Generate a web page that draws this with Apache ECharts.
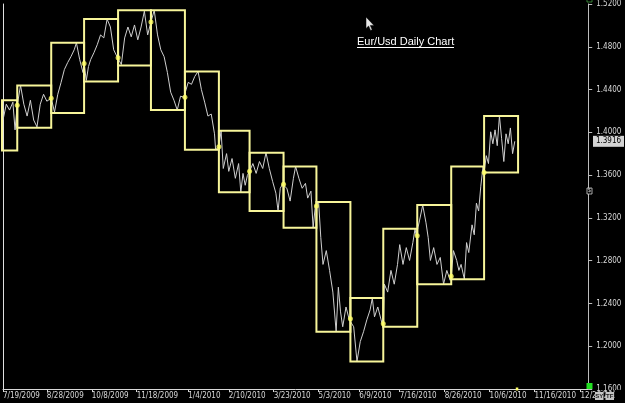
<!DOCTYPE html>
<html>
<head>
<meta charset="utf-8">
<script src="https://cdn.jsdelivr.net/npm/echarts@6/dist/echarts.min.js"></script>
<style>
html,body{margin:0;padding:0;background:#000;}
#c{width:625px;height:403px;}
</style>
</head>
<body>
<div id="c"></div>
<script>
// ---- data ----
const priceDates = [
 '2009-07-17','2009-07-19','2009-07-22','2009-07-25','2009-07-28','2009-07-30',
 '2009-08-01','2009-08-04','2009-08-07','2009-08-10','2009-08-13','2009-08-16','2009-08-19','2009-08-22','2009-08-25','2009-08-28',
 '2009-09-01','2009-09-04','2009-09-07','2009-09-10','2009-09-13','2009-09-16','2009-09-19','2009-09-22','2009-09-24','2009-09-27','2009-09-30',
 '2009-10-01','2009-10-03','2009-10-05','2009-10-07','2009-10-10','2009-10-13','2009-10-16','2009-10-19','2009-10-22','2009-10-25','2009-10-28','2009-10-31',
 '2009-11-01','2009-11-04','2009-11-07','2009-11-10','2009-11-13','2009-11-16','2009-11-19','2009-11-22','2009-11-25','2009-11-28',
 '2009-12-01','2009-12-04','2009-12-07','2009-12-10','2009-12-13','2009-12-16','2009-12-19','2009-12-22','2009-12-25','2009-12-28','2009-12-31',
 '2010-01-04','2010-01-07','2010-01-10','2010-01-13','2010-01-16','2010-01-19','2010-01-22','2010-01-25','2010-01-28','2010-01-29',
 '2010-02-01','2010-02-03','2010-02-05','2010-02-08','2010-02-10','2010-02-13','2010-02-16','2010-02-19','2010-02-21','2010-02-23','2010-02-25','2010-02-27',
 '2010-03-01','2010-03-04','2010-03-07','2010-03-10','2010-03-13','2010-03-16','2010-03-19','2010-03-22','2010-03-25','2010-03-27','2010-03-29','2010-03-31',
 '2010-04-04','2010-04-07','2010-04-10','2010-04-12','2010-04-15','2010-04-18','2010-04-21','2010-04-23','2010-04-26','2010-04-28','2010-04-30',
 '2010-05-03','2010-05-05','2010-05-07','2010-05-10','2010-05-13','2010-05-16','2010-05-19','2010-05-21','2010-05-23','2010-05-25','2010-05-28','2010-05-31',
 '2010-06-01','2010-06-04','2010-06-07','2010-06-10','2010-06-13','2010-06-16','2010-06-19','2010-06-21','2010-06-23','2010-06-26','2010-06-29','2010-06-30',
 '2010-07-01','2010-07-02','2010-07-05','2010-07-08','2010-07-11','2010-07-14','2010-07-16','2010-07-19','2010-07-22','2010-07-25','2010-07-28','2010-07-30','2010-07-31',
 '2010-08-03','2010-08-06','2010-08-09','2010-08-11','2010-08-13','2010-08-16','2010-08-19','2010-08-22','2010-08-25','2010-08-28','2010-08-31',
 '2010-09-01','2010-09-03','2010-09-06','2010-09-08','2010-09-10','2010-09-13','2010-09-15','2010-09-17','2010-09-20','2010-09-22','2010-09-24','2010-09-26','2010-09-28','2010-09-30',
 '2010-10-01','2010-10-03','2010-10-05','2010-10-07','2010-10-09','2010-10-11','2010-10-13','2010-10-15','2010-10-17','2010-10-19','2010-10-21','2010-10-23','2010-10-25','2010-10-27','2010-10-29'
];
const priceValues = [
 1.4152,1.4115,1.4263,1.4208,1.4282,1.4023,
 1.4254,1.4439,1.4263,1.4152,1.4300,1.4115,1.4051,1.4263,1.4356,1.4291,
 1.4319,1.4189,1.4356,1.4467,1.4587,1.4652,1.4708,1.4772,1.4837,1.4680,1.4559,
 1.4643,1.4485,1.4615,1.4680,1.4745,1.4819,1.4911,1.4883,1.5059,1.4985,1.4772,1.4708,
 1.4698,1.4634,1.4883,1.4985,1.4893,1.5004,1.4865,1.4985,1.5133,1.4911,
 1.5031,1.5142,1.4911,1.4772,1.4708,1.4560,1.4375,1.4300,1.4208,1.4338,1.4328,
 1.4467,1.4449,1.4523,1.4569,1.4402,1.4282,1.4152,1.4171,1.3986,1.3838,
 1.3866,1.4014,1.3662,1.3801,1.3635,1.3755,1.3570,1.3708,1.3440,1.3616,1.3505,1.3597,
 1.3635,1.3708,1.3616,1.3727,1.3662,1.3810,1.3662,1.3542,1.3431,1.3264,1.3477,1.3514,
 1.3477,1.3357,1.3570,1.3681,1.3570,1.3477,1.3523,1.3385,1.3450,1.3107,1.3311,
 1.3348,1.3015,1.2765,1.2894,1.2709,1.2506,1.2136,1.2552,1.2321,1.2182,1.2367,1.2247,
 1.2256,1.2182,1.1858,1.2043,1.2136,1.2247,1.2340,1.2450,1.2275,1.2367,1.2247,1.2210,
 1.2182,1.2580,1.2506,1.2709,1.2580,1.2765,1.2950,1.2765,1.2922,1.2802,1.2969,1.3098,1.3033,
 1.3172,1.3320,1.3154,1.3015,1.2802,1.2922,1.2765,1.2830,1.2580,1.2709,1.2617,
 1.2654,1.2894,1.2802,1.2709,1.2765,1.2626,1.2969,1.2876,1.3135,1.3042,1.3338,1.3264,1.3496,1.3681,
 1.3625,1.3782,1.3708,1.4005,1.3893,1.4023,1.3875,1.4153,1.3940,1.3727,1.3986,1.3893,1.4041,1.3801,1.3916
];
// monthly range boxes: box i spans boxMonths[i] .. boxMonths[i+1]
const boxMonths = ['2009-07-01','2009-08-01','2009-09-01','2009-10-01','2009-11-01','2009-12-01','2010-01-01','2010-02-01','2010-03-01','2010-04-01','2010-05-01','2010-06-01','2010-07-01','2010-08-01','2010-09-01','2010-10-01','2010-11-01'];
const boxHigh = [1.4300,1.4439,1.4837,1.5059,1.5142,1.5142,1.4569,1.4014,1.3810,1.3681,1.3348,1.2450,1.3098,1.3320,1.3681,1.4153];
const boxLow  = [1.3829,1.4042,1.4180,1.4476,1.4624,1.4208,1.3838,1.3440,1.3264,1.3107,1.2136,1.1858,1.2182,1.2580,1.2626,1.3625];
// monthly opening level markers (Aug 2009 .. Oct 2010)
const openValues = [1.4254,1.4319,1.4643,1.4698,1.5031,1.4328,1.3866,1.3635,1.3514,1.3311,1.2256,1.2210,1.3033,1.2654,1.3625];
const xTickDates = ['2009-07-19','2009-08-28','2009-10-08','2009-11-18','2010-01-04','2010-02-10','2010-03-23','2010-05-03','2010-06-09','2010-07-16','2010-08-26','2010-10-06','2010-11-16','2010-12-28'];
const yMin = 1.16, yMax = 1.52, yStep = 0.04;
const xStart = '2009-07-19', xEnd = '2011-01-04';
const titleText = 'Eur/Usd Daily Chart';

// ---- helpers ----
function ts(s){ const p = s.split('-').map(Number); return new Date(p[0], p[1]-1, p[2]).getTime(); }
function fmtDate(v){ const d = new Date(v); return (d.getMonth()+1) + '/' + d.getDate() + '/' + d.getFullYear(); }
const NARROW = "'Liberation Sans Narrow','DejaVu Sans Condensed','Liberation Sans',sans-serif";

const lineData = priceDates.map((d,i)=>[ts(d), priceValues[i]]);
const boxData = boxHigh.map((h,i)=>[ts(boxMonths[i]), ts(boxMonths[i+1]), h, boxLow[i]]);
const openData = openValues.map((v,i)=>[ts(boxMonths[i+1]), v]);
const tickTs = xTickDates.map(ts);

const chart = echarts.init(document.getElementById('c'), null, {renderer:'canvas'});
const option = {
  backgroundColor:'#000',
  animation:false,
  grid:{left:2, right:33, top:0, bottom:14, containLabel:false},
  xAxis:{
    type:'value', min:ts(xStart), max:ts(xEnd), scale:true,
    axisLine:{show:true, lineStyle:{color:'#d8d8d8', width:1}},
    axisTick:{show:true, customValues:tickTs, length:3, lineStyle:{color:'#d8d8d8'}},
    axisLabel:{customValues:tickTs, formatter:fmtDate, color:'#d8d8d8', fontSize:8, fontFamily:NARROW, align:'left', margin:3, hideOverlap:false},
    splitLine:{show:false}
  },
  yAxis:[{
    type:'value', position:'right', min:yMin, max:yMax, interval:yStep,
    axisLine:{show:true, lineStyle:{color:'#bdbdbd'}},
    axisTick:{show:true, length:4, lineStyle:{color:'#bdbdbd'}},
    axisLabel:{margin:8, formatter:v=>v.toFixed(4), color:'#d8d8d8', fontSize:8, fontFamily:NARROW},
    splitLine:{show:false}
  },{
    type:'value', position:'left', min:yMin, max:yMax, interval:yStep,
    axisLine:{show:true, lineStyle:{color:'#e0e0e0'}},
    axisTick:{show:false}, axisLabel:{show:false}, splitLine:{show:false}
  }],
  series:[{
    type:'line', data:lineData, yAxisIndex:0, showSymbol:false, clip:true,
    lineStyle:{color:'#cfcfcf', width:1}, z:2
  },{
    type:'custom', yAxisIndex:0, data:boxData, z:3,
    encode:{x:[0,1], y:[2,3]},
    renderItem:function(params, api){
      const p0 = api.coord([api.value(0), api.value(2)]);
      const p1 = api.coord([api.value(1), api.value(3)]);
      const shape = {x:Math.min(p0[0],p1[0]), y:Math.min(p0[1],p1[1]), width:Math.abs(p1[0]-p0[0]), height:Math.abs(p1[1]-p0[1])};
      const cs = params.coordSys;
      const clipped = echarts.graphic.clipRectByRect(shape, {x:cs.x-1, y:cs.y-1, width:cs.width+2, height:cs.height+2});
      if(!clipped) return null;
      return {type:'rect', shape:clipped, style:{fill:null, stroke:'#f7f59a', lineWidth:2}};
    }
  },{
    type:'scatter', yAxisIndex:0, data:openData, symbol:'circle', symbolSize:5,
    itemStyle:{color:'#ffff66'}, z:4
  }]
};
chart.setOption(option);

// decorations positioned from the axes
const lastDate = lineData[lineData.length-1][0];
const lastPrice = priceValues[priceValues.length-1];
const py = chart.convertToPixel({yAxisIndex:0}, lastPrice);
const lx = chart.convertToPixel({xAxisIndex:0}, lastDate);
const gridRight = 625 - 33, gridBottom = 403 - 14;
chart.setOption({
  graphic:[
    {type:'text', left:357, top:36, style:{text:titleText, fill:'#ffffff', font:"11px 'Liberation Sans',Arial,sans-serif"}, z:10},
    {type:'line', shape:{x1:357, y1:47.5, x2:454, y2:47.5}, style:{stroke:'#ffffff', lineWidth:1}, z:10},
    {type:'polygon', shape:{points:[[366,17],[366,28.5],[368.6,26],[370.6,30.5],[372.2,29.8],[370.3,25.4],[374,25.4]]}, style:{fill:'#e8e8e8', stroke:'#000', lineWidth:0.5}, z:10},
    {type:'rect', shape:{x:gridRight+1, y:py-5.5, width:31, height:11}, style:{fill:'#d4d4d4'}, z:10},
    {type:'text', x:gridRight+16.5, y:py, style:{text:lastPrice.toFixed(4), fill:'#000', font:"8px "+NARROW, align:'center', verticalAlign:'middle'}, z:11},
    {type:'rect', shape:{x:lx+1, y:gridBottom-1.5, width:2.5, height:3}, style:{fill:'#ffff66'}, z:10},
    {type:'rect', shape:{x:gridRight-5.5, y:gridBottom-6, width:6, height:6}, style:{fill:'#22e022'}, z:10},
    {type:'rect', shape:{x:gridRight-5, y:188, width:5, height:6}, style:{fill:'#000', stroke:'#cfcfcf', lineWidth:0.8}, z:10},
    {type:'text', x:gridRight-2.5, y:191, style:{text:'$', fill:'#cfcfcf', font:"5px sans-serif", align:'center', verticalAlign:'middle'}, z:11},
    {type:'rect', shape:{x:gridRight-5, y:-2, width:5, height:4}, style:{fill:'#000', stroke:'#3c9a3c', lineWidth:0.8}, z:10},
    {type:'rect', shape:{x:595, y:392, width:8.5, height:8}, style:{fill:'#c4c4c4'}, z:10},
    {type:'text', x:599.2, y:396.2, style:{text:'SY', fill:'#202020', font:"bold 6px 'Liberation Sans',sans-serif", align:'center', verticalAlign:'middle'}, z:11},
    {type:'rect', shape:{x:605.5, y:392, width:8.5, height:8}, style:{fill:'#c4c4c4'}, z:10},
    {type:'text', x:609.7, y:396.2, style:{text:'TF', fill:'#202020', font:"bold 6px 'Liberation Sans',sans-serif", align:'center', verticalAlign:'middle'}, z:11},
    {type:'rect', shape:{x:614.5, y:390, width:11, height:13}, style:{fill:'#000'}, z:9}
  ]
});
</script>
</body>
</html>
